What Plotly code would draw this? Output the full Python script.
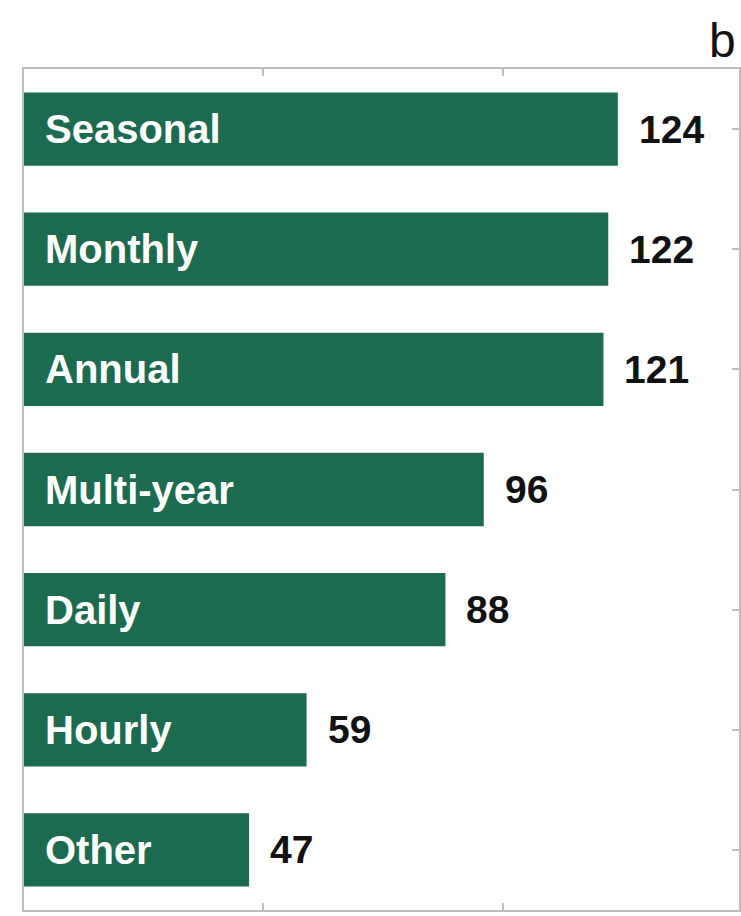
import plotly.graph_objects as go

categories = ["Seasonal", "Monthly", "Annual", "Multi-year", "Daily", "Hourly", "Other"]
counts = [124, 122, 121, 96, 88, 59, 47]
x_tick_values = [0, 50, 100, 150]
panel_letter = "b"

BAR_COLOR = "#1c6a4f"
AXIS_COLOR = "#bdbdbd"
FONT = "Liberation Sans, Arial, sans-serif"

fig = go.Figure()
fig.add_trace(go.Bar(
    x=counts,
    y=categories,
    orientation="h",
    width=0.61,
    marker=dict(color=BAR_COLOR, line=dict(width=0)),
    hoverinfo="x+y",
))

annotations = []
for cat, val in zip(categories, counts):
    annotations.append(dict(
        x=0, y=cat, xref="x", yref="y", text=cat, showarrow=False,
        xanchor="left", yanchor="middle", xshift=19,
        font=dict(family=FONT, size=40, color="white", weight="bold"),
    ))
    annotations.append(dict(
        x=val, y=cat, xref="x", yref="y", text=str(val), showarrow=False,
        xanchor="left", yanchor="middle", xshift=19,
        font=dict(family=FONT, size=39, color="#111111", weight="bold"),
    ))
annotations.append(dict(
    x=1.0, y=1.0, xref="paper", yref="paper", text=panel_letter, showarrow=False,
    xanchor="right", yanchor="bottom", xshift=-1, yshift=0,
    font=dict(family=FONT, size=48, color="#111111"),
))

fig.update_layout(
    width=741, height=916,
    margin=dict(l=24, r=0, t=69, b=6, pad=0),
    paper_bgcolor="white", plot_bgcolor="white",
    showlegend=False,
    bargap=0.39,
    annotations=annotations,
    xaxis=dict(
        range=[0, 149.3], tickvals=x_tick_values, showticklabels=False,
        ticks="inside", ticklen=7, tickwidth=1.5, tickcolor=AXIS_COLOR,
        showline=True, linecolor=AXIS_COLOR, linewidth=2, mirror="ticks",
        showgrid=False, zeroline=False, layer="below traces",
    ),
    yaxis=dict(
        categoryorder="array", categoryarray=categories, autorange="reversed",
        showticklabels=False,
        ticks="inside", ticklen=7, tickwidth=1.5, tickcolor=AXIS_COLOR,
        showline=True, linecolor=AXIS_COLOR, linewidth=2, mirror="ticks",
        showgrid=False, zeroline=False, layer="below traces",
    ),
)

fig.write_html(
    "out.html",
    config={"displayModeBar": False},
    post_script="document.body.style.margin='0';document.body.style.overflow='hidden';",
)
